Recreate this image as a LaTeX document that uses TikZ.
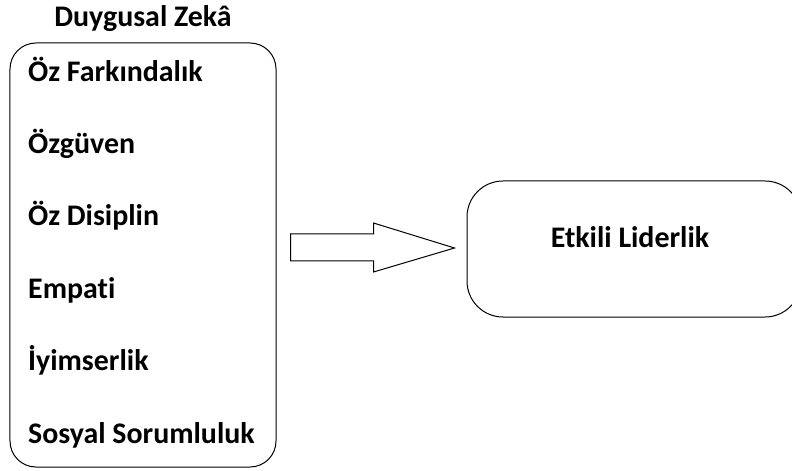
\documentclass[tikz,border=0pt]{standalone}
\usepackage{fontspec}
\setmainfont{Carlito}[Ligatures=NoCommon]
\usepackage{tikz}
\usetikzlibrary{positioning, calc}

\begin{document}
\begin{tikzpicture}[x=1bp, y=-1bp,
    box/.style={draw, line width=1bp, rounded corners=26bp},
    item/.style={anchor=base west, inner sep=0pt, font=\fontsize{30}{36}\selectfont\bfseries}]
          \useasboundingbox (0,0) rectangle (792,471);

          % left box with its list
          \node[box, minimum width=266bp, minimum height=424bp] (zeka) at (143,255) {};
          \node[item, anchor=base] (title) at (143,27) {Duygusal Zekâ};
          \node[item] (i1) at (28,82) {Öz Farkındalık};
          \node[item] (i2) at (28,154) {Özgüven};
          \node[item] (i3) at (28,226) {Öz Disiplin};
          \node[item] (i4) at (28,299) {Empati};
          \node[item] (i5) at (28,371) {İyimserlik};
          \node[item] (i6) at (28,443) {Sosyal Sorumluluk};

          % right box, cut off at the page edge
          \node[box, rounded corners=36bp, minimum width=334bp, minimum height=136bp] (lider) at (634,249) {};
          \node[item, anchor=base] (etkili) at (630,248) {Etkili Liderlik};

          % block arrow
          \coordinate (tail) at ($(zeka.east)+(14,-7.5)$);
          \draw[line width=1bp, line join=miter] (tail) ++(0,-13.5) -- ++(83,0) -- ++(0,-11)
            -- ($(lider.west)+(-12,-1)$) -- ($(tail)+(83,24.5)$) -- ++(0,-11) -- ++(-83,0) -- cycle;
        \end{tikzpicture}
\end{document}
